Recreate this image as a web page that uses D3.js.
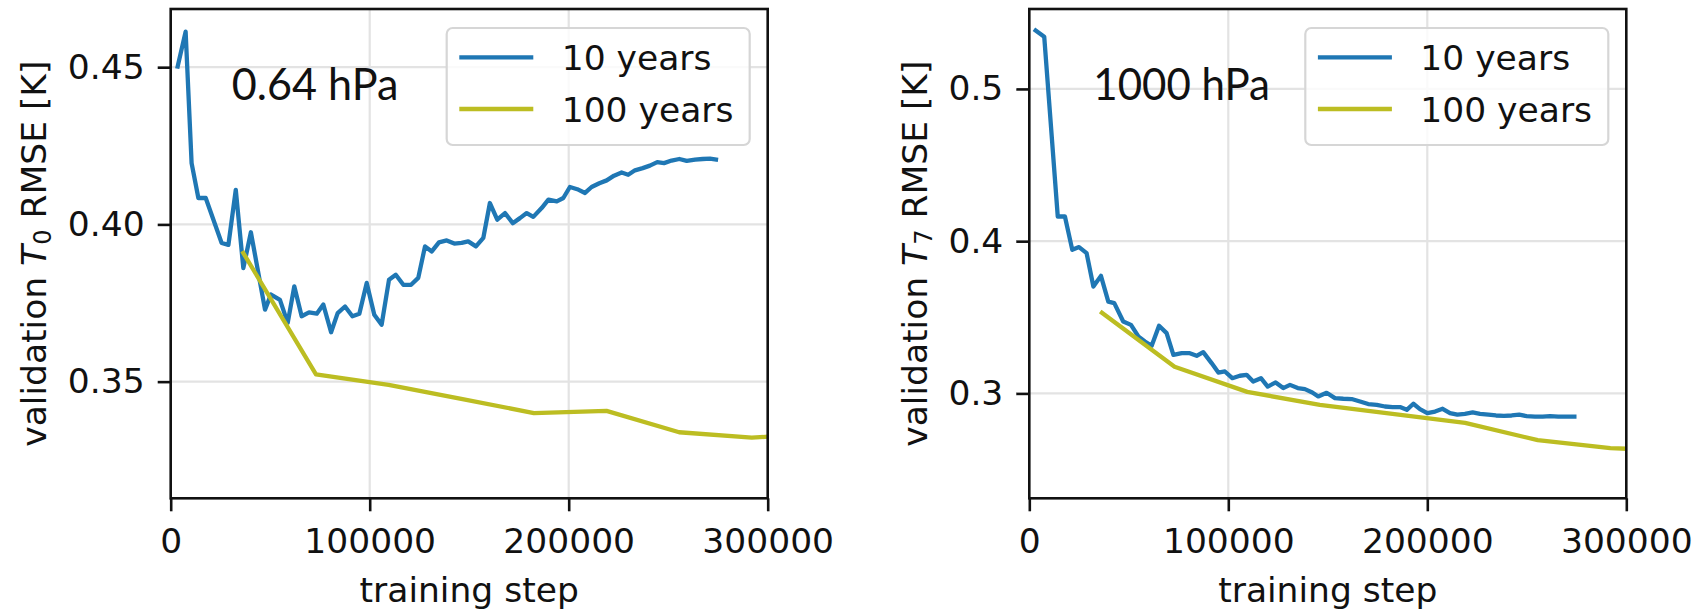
<!DOCTYPE html>
<html>
<head>
<meta charset="utf-8">
<script src="https://cdn.jsdelivr.net/npm/d3@7"></script>
<style>
  html, body { margin: 0; padding: 0; background: #fff; }
  svg { display: block; }
  text { font-family: "DejaVu Sans", sans-serif; fill: #111; }
</style>
</head>
<body>
<svg id="chart" width="1699" height="611"></svg>
<script>
// ---- data: validation RMSE vs. training step ----
const xTicks = [0, 100000, 200000, 300000];

// 0.64 hPa level (T0)
const t0Steps10 = [3500, 7500, 10500, 13900, 17600, 25600, 29000, 32700, 36500, 40300,
  47400, 50400, 54900, 58800, 62100, 65800, 69500, 73400, 76700, 80600,
  83900, 87600, 91300, 94800, 98500, 102300, 106000, 109700, 113100, 116900,
  120800, 124400, 127800, 131200, 134800, 138700, 142500, 146200, 149500, 153400,
  157100, 160400, 164100, 168000, 171900, 175500, 178900, 182200, 186400, 189800,
  194000, 197300, 200600, 204300, 208200, 211500, 215400, 219100, 222800, 226600,
  229900, 233300, 237200, 240800, 244500, 247900, 251700, 255600, 259300, 263500,
  267300, 271000, 274000];
const t0Rmse10 = [0.4502, 0.4613, 0.4195, 0.4084, 0.4084, 0.3941, 0.3935, 0.4110, 0.3861, 0.3975,
  0.3729, 0.3777, 0.3760, 0.3687, 0.3803, 0.3708, 0.3720, 0.3716, 0.3745, 0.3657,
  0.3718, 0.3739, 0.3708, 0.3716, 0.3814, 0.3713, 0.3681, 0.3824, 0.3840, 0.3808,
  0.3808, 0.3830, 0.3930, 0.3914, 0.3943, 0.3949, 0.3939, 0.3941, 0.3946, 0.3930,
  0.3957, 0.4068, 0.4015, 0.4036, 0.4004, 0.4020, 0.4036, 0.4024, 0.4052, 0.4079,
  0.4073, 0.4084, 0.4119, 0.4112, 0.4100, 0.4119, 0.4131, 0.4140, 0.4155, 0.4165,
  0.4158, 0.4172, 0.4179, 0.4187, 0.4198, 0.4195, 0.4203, 0.4208, 0.4202, 0.4206,
  0.4208, 0.4209, 0.4206];
const t0Steps100 = [36500, 73000, 109500, 146000, 182500, 219000, 255500, 292000, 328500];
const t0Rmse100 = [0.3909, 0.3523, 0.3490, 0.3445, 0.3400, 0.3407, 0.3339, 0.3322, 0.3335];
const t0Ticks = [0.35, 0.40, 0.45];

// 1000 hPa level (T7)
const t7Steps10 = [3200, 7500, 14300, 17900, 21600, 25000, 28800, 32200, 36000, 39700,
  42700, 47200, 51100, 54800, 58100, 61500, 65200, 69000, 72400, 76600,
  80300, 84100, 87400, 91600, 95000, 98300, 102000, 105800, 109200, 112500,
  116400, 119800, 123800, 127600, 131000, 134900, 138500, 142200, 145200, 149400,
  153600, 157800, 162000, 166200, 170300, 174600, 178700, 182600, 186300, 189700,
  193000, 196300, 200000, 203900, 207700, 211400, 215100, 218900, 222800, 226500,
  230700, 234500, 238500, 242400, 246200, 249900, 254100, 258000, 261700, 265800,
  270000, 273900];
const t7Rmse10 = [0.5383, 0.5343, 0.4162, 0.4162, 0.3943, 0.3961, 0.3921, 0.3702, 0.3772, 0.3603,
  0.3593, 0.3472, 0.3450, 0.3374, 0.3341, 0.3313, 0.3444, 0.3396, 0.3253, 0.3265,
  0.3265, 0.3247, 0.3271, 0.3199, 0.3137, 0.3144, 0.3100, 0.3116, 0.3122, 0.3078,
  0.3100, 0.3045, 0.3072, 0.3035, 0.3056, 0.3035, 0.3028, 0.3006, 0.2980, 0.3004,
  0.2969, 0.2965, 0.2963, 0.2947, 0.2930, 0.2925, 0.2914, 0.2910, 0.2910, 0.2892,
  0.2932, 0.2897, 0.2871, 0.2881, 0.2899, 0.2871, 0.2860, 0.2866, 0.2875, 0.2866,
  0.2860, 0.2855, 0.2853, 0.2855, 0.2860, 0.2851, 0.2848, 0.2848, 0.2851, 0.2848,
  0.2848, 0.2848];
const t7Steps100 = [36500, 73000, 109500, 146000, 182500, 219000, 255500, 292000, 328500];
const t7Rmse100 = [0.3530, 0.3175, 0.3010, 0.2925, 0.2866, 0.2807, 0.2693, 0.2640, 0.2625];
const t7Ticks = [0.3, 0.4, 0.5];

const seriesNames = ["10 years", "100 years"];
const seriesColors = ["#1f77b4", "#bcbd22"];

// ---- layout ----
const svg = d3.select("#chart");
const plotTop = 9, plotBottom = 498.3, plotW = 597;
const FS = 34.5;

const panels = [
  { id: "p0", x0: 170.7, yDomain: [0.3129, 0.4685], yTicks: t0Ticks, fmt: ".2f",
    sub: "0", level: "0.64 hPa", levelW: 166.7, levelDx: 61, ylabX: 45.5,
    s10: [t0Steps10, t0Rmse10], s100: [t0Steps100, t0Rmse100] },
  { id: "p1", x0: 1029.3, yDomain: [0.2311, 0.5525], yTicks: t7Ticks, fmt: ".1f",
    sub: "7", level: "1000 hPa", levelW: 176.7, levelDx: 64, ylabX: 926.8,
    s10: [t7Steps10, t7Rmse10], s100: [t7Steps100, t7Rmse100] }
];

const defs = svg.append("defs");

panels.forEach(p => {
  const x = d3.scaleLinear().domain([0, 300000]).range([p.x0, p.x0 + plotW]);
  const y = d3.scaleLinear().domain(p.yDomain).range([plotBottom, plotTop]);
  const x1 = p.x0 + plotW;
  const g = svg.append("g");

  defs.append("clipPath").attr("id", "clip-" + p.id)
    .append("rect").attr("x", p.x0).attr("y", plotTop).attr("width", plotW).attr("height", plotBottom - plotTop);

  // grid
  g.append("g").selectAll("line").data(xTicks.slice(1, -1)).join("line")
    .attr("x1", d => x(d)).attr("x2", d => x(d)).attr("y1", plotTop).attr("y2", plotBottom)
    .attr("stroke", "#e3e3e3").attr("stroke-width", 2.2);
  g.append("g").selectAll("line").data(p.yTicks).join("line")
    .attr("x1", p.x0).attr("x2", x1).attr("y1", d => y(d)).attr("y2", d => y(d))
    .attr("stroke", "#e3e3e3").attr("stroke-width", 2.2);

  // series lines
  const line = d3.line().x(d => x(d[0])).y(d => y(d[1]));
  const lines = g.append("g").attr("clip-path", `url(#clip-${p.id})`);
  [p.s10, p.s100].forEach((s, i) => {
    const pts = s[0].map((v, k) => [v, s[1][k]]);
    lines.append("path").datum(pts).attr("d", line)
      .attr("fill", "none").attr("stroke", seriesColors[i])
      .attr("stroke-width", 4.3).attr("stroke-linejoin", "round").attr("stroke-linecap", "square");
  });

  // axes
  const ay = g.append("g").attr("transform", `translate(${p.x0},0)`)
    .call(d3.axisLeft(y).tickValues(p.yTicks).tickFormat(d3.format(p.fmt)).tickSize(13).tickPadding(13));
  const ax = g.append("g").attr("transform", `translate(0,${plotBottom})`)
    .call(d3.axisBottom(x).tickValues(xTicks).tickFormat(d3.format("d")).tickSize(13).tickPadding(17));
  [ay, ax].forEach(a => {
    a.select(".domain").remove();
    a.selectAll(".tick line").attr("stroke", "#111").attr("stroke-width", 2.6);
    a.selectAll(".tick text").attr("font-size", FS).attr("font-family", "DejaVu Sans").attr("fill", "#111");
  });

  // frame
  g.append("rect").attr("x", p.x0).attr("y", plotTop).attr("width", plotW).attr("height", plotBottom - plotTop)
    .attr("fill", "none").attr("stroke", "#111").attr("stroke-width", 2.6);

  // axis labels
  g.append("text").attr("x", (p.x0 + x1) / 2).attr("y", 602)
    .attr("text-anchor", "middle").attr("font-size", FS).text("training step");
  const yl = g.append("text")
    .attr("transform", `translate(${p.ylabX},${(plotTop + plotBottom) / 2}) rotate(-90)`)
    .attr("text-anchor", "middle").attr("font-size", FS);
  yl.append("tspan").text("validation ");
  yl.append("tspan").attr("font-style", "italic").text("T");
  yl.append("tspan").attr("font-size", FS * 0.7).attr("dy", 5).text(p.sub);
  yl.append("tspan").attr("dy", -5).text(" RMSE [K]");

  // legend
  const lx = x1 - 321, ly = 28;
  const lg = g.append("g");
  lg.append("rect").attr("x", lx).attr("y", ly).attr("width", 303).attr("height", 117)
    .attr("rx", 6).attr("fill", "rgba(255,255,255,0.8)").attr("stroke", "#d6d6d6").attr("stroke-width", 2.2);
  seriesNames.forEach((name, i) => {
    const cy = 57.3 + i * 51.7;
    lg.append("line").attr("x1", lx + 12.6).attr("x2", lx + 86.6).attr("y1", cy).attr("y2", cy)
      .attr("stroke", seriesColors[i]).attr("stroke-width", 4.3);
    lg.append("text").attr("x", lx + 115).attr("y", 70 + i * 51.7).attr("font-size", FS).text(name);
  });

  // pressure level annotation
  g.append("text").attr("x", p.x0 + p.levelDx).attr("y", 100)
    .attr("font-size", 44)
    .attr("textLength", p.levelW).attr("lengthAdjust", "spacingAndGlyphs")
    .style("font-family", "Lato, 'Open Sans', sans-serif").attr("fill", "#000")
    .text(p.level);
});
</script>
</body>
</html>
